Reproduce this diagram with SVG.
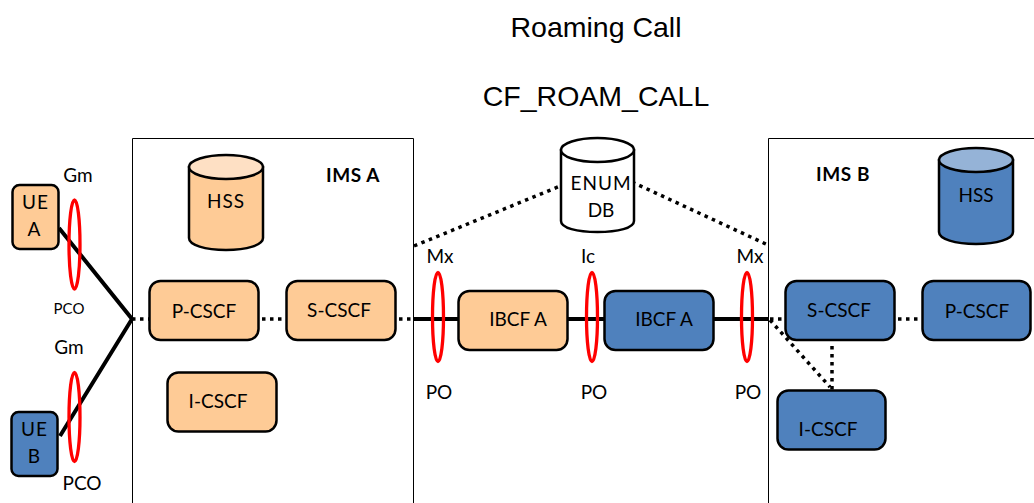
<svg xmlns="http://www.w3.org/2000/svg" width="1034" height="503" viewBox="0 0 1034 503">
<style>
text{font-family:Lato,"Open Sans",sans-serif;font-size:19px;fill:#000;text-anchor:middle}
.t{font-family:"Liberation Sans",Arial,sans-serif;font-size:28.500px}
.b{font-weight:700;letter-spacing:.6px}
.sp{letter-spacing:1px}
.box{stroke:#000;stroke-width:2.500}
.o{fill:#fecb96}
.u{fill:#4f81bd}
.w{fill:#fff}
.frame{fill:none;stroke:#000;stroke-width:1}
.s{stroke:#000;stroke-width:4;fill:none}
.d{stroke:#000;stroke-width:3.500;fill:none;stroke-dasharray:3.500 4.500}
.r{fill:none;stroke:#f00;stroke-width:3.300}
</style>
<rect width="1034" height="503" fill="#fff"/>
<g id="titles">
<text class="t" x="596" y="37">Roaming Call</text>
<text class="t" x="596" y="106">CF_ROAM_CALL</text>
</g>
<g id="ims-a"><path class="frame" d="M132.500 503V138.500H413.500V503"/><text class="b" x="353" y="182">IMS A</text></g>
<g id="ims-b"><path class="frame" d="M1034 138.500H768.500V503"/><text class="b" x="843" y="181">IMS B</text></g>
<g id="connectors">
<path class="s" d="M59 228L132 319L60 436"/>
<path class="s" d="M413 319H458M568 319H604M714 319H768"/>
<path class="d" d="M132 319H149M262 319H286M399 319H413M770 319H785M898 319H922M832 346V390M770 320L830 387M414 246L570 182M632 182L768 245"/>
</g>
<g id="ue-a"><rect class="box o" x="12.500" y="185" width="46" height="64" rx="7"/><text class="sp" x="35.500" y="209">UE</text><text x="34" y="236">A</text></g>
<g id="ue-b"><rect class="box u" x="11.500" y="412" width="46" height="64" rx="7"/><text class="sp" x="34.500" y="436">UE</text><text x="34" y="463">B</text></g>
<g id="hss-a"><path class="box o" d="M189 167V238C189 245 205 250 226 250S263 245 263 238V167Z"/><ellipse class="box" fill="#fee0c4" cx="226" cy="167" rx="37" ry="12"/><text class="sp" x="226" y="208">HSS</text></g>
<g id="p-cscf-a"><rect class="box o" x="149.500" y="281" width="109" height="59" rx="11"/><text x="204" y="318">P-CSCF</text></g>
<g id="s-cscf-a"><rect class="box o" x="286.500" y="281" width="109" height="59" rx="11"/><text x="339" y="317">S-CSCF</text></g>
<g id="i-cscf-a"><rect class="box o" x="167.500" y="372.500" width="109" height="59" rx="11"/><text x="218" y="408">I-CSCF</text></g>
<g id="enum-db"><path class="box w" d="M561 150V221C561 228 577 232 597.500 232S634 228 634 221V150Z"/><ellipse class="box w" cx="597.500" cy="150" rx="36.500" ry="12"/><text class="sp" x="601" y="190">ENUM</text><text x="601" y="217">DB</text></g>
<g id="ibcf-orange"><rect class="box o" x="458.500" y="291" width="109" height="59" rx="11"/><text x="518" y="326">IBCF A</text></g>
<g id="ibcf-blue"><rect class="box u" x="604.500" y="291" width="109" height="59" rx="11"/><text x="664" y="326">IBCF A</text></g>
<g id="s-cscf-b"><rect class="box u" x="785.500" y="281" width="109" height="59" rx="11"/><text x="839" y="317">S-CSCF</text></g>
<g id="p-cscf-b"><rect class="box u" x="922.500" y="281" width="108" height="59" rx="11"/><text x="977" y="318">P-CSCF</text></g>
<g id="i-cscf-b"><rect class="box u" x="777.500" y="390.500" width="108" height="59" rx="11"/><text x="828" y="436">I-CSCF</text></g>
<g id="hss-b"><path class="box u" d="M939 160V232C939 239 955 244 976 244S1013 239 1013 232V160Z"/><ellipse class="box" fill="#95b3d7" cx="976" cy="160" rx="37" ry="12"/><text x="976" y="202">HSS</text></g>
<g id="reference-points">
<ellipse class="r" cx="74.500" cy="244.500" rx="5.500" ry="44.500"/>
<ellipse class="r" cx="74.500" cy="417" rx="5.500" ry="44.500"/>
<ellipse class="r" cx="438" cy="317" rx="5.500" ry="44.500"/>
<ellipse class="r" cx="592" cy="317" rx="5.500" ry="44.500"/>
<ellipse class="r" cx="747" cy="317" rx="5.500" ry="44.500"/>
<text x="78" y="182">Gm</text>
<text x="69" y="354">Gm</text>
<text x="69" y="314" style="font-size:15px">PCO</text>
<text x="82" y="490">PCO</text>
<text x="440" y="263">Mx</text>
<text x="588" y="263">Ic</text>
<text x="750" y="263">Mx</text>
<text x="439" y="399">PO</text>
<text x="594" y="399">PO</text>
<text x="748" y="399">PO</text>
</g>
</svg>
